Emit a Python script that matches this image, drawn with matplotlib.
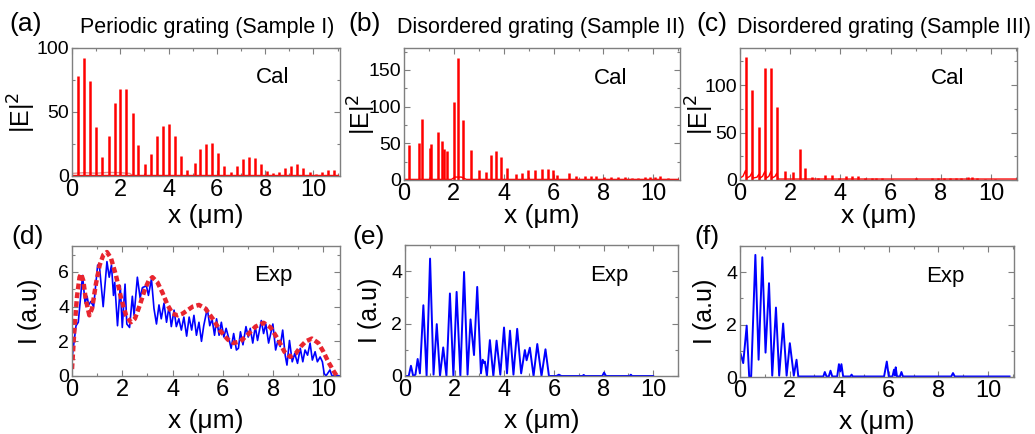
import matplotlib
matplotlib.use("Agg")
import matplotlib.pyplot as plt
from matplotlib.ticker import MultipleLocator

plt.rcParams["font.family"] = ["Liberation Sans", "DejaVu Sans"]

W, H = 1035, 434

# ---- (a) periodic grating, calculated |E|^2 peaks ----
a_x = [0.24, 0.48, 0.73, 1.0, 1.24, 1.52, 1.77, 2.0, 2.24, 2.52, 2.75, 3.02,
       3.29, 3.54, 3.76, 4.01, 4.27, 4.52, 4.77, 5.08, 5.3, 5.53, 5.78, 6.04,
       6.29, 6.57, 6.82, 7.07, 7.33, 7.57, 7.81, 8.06, 8.34, 8.59, 8.82, 9.07,
       9.32, 9.57, 9.85, 10.1, 10.35, 10.6, 10.86]
a_h = [78, 92, 74, 38, 15, 31, 57, 68, 68, 49, 24, 9,
       17, 31, 39, 41, 31, 16, 5, 10, 21, 25, 26, 18,
       8, 3, 8, 13, 15, 14, 9, 4, 2, 3, 6, 8,
       9, 6, 3, 1.5, 3, 5, 5]
a_base_x = [0, 0.5, 1.0, 1.5, 2.0, 2.4, 2.5]
a_base_y = [2, 2.6, 2.2, 2.8, 2.6, 2.0, 0.5]

# ---- (b) disordered grating II ----
b_x = [0.21, 0.59, 0.72, 1.06, 1.1, 1.37, 1.54, 1.59, 1.74, 2.02, 2.17, 2.37,
       2.7, 2.99, 3.28, 3.47, 3.71, 3.91, 4.15, 4.48, 4.75, 4.98, 5.25, 5.52,
       5.78, 5.98, 6.14, 6.6, 6.89, 7.26, 7.52, 7.72, 8.02, 8.29, 8.6, 8.86,
       9.13, 9.4, 9.67, 9.87, 10.07, 10.27, 10.6, 10.94]
b_h = [48, 51, 83, 44, 49, 66, 53, 42, 40, 107, 167, 82,
       41, 14, 11, 34, 39, 32, 17, 8, 10, 13, 14, 15,
       15, 14, 7, 9, 6, 6, 5, 5, 4, 4, 4, 4,
       3, 3, 4, 4, 4, 5, 3, 2]
b_base_x = [0, 1.9, 2.05, 2.3, 2.5, 11]
b_base_y = [0.8, 0.8, 4, 4, 0.8, 0.8]

# ---- (c) disordered grating III ----
c_x = [0.23, 0.49, 0.76, 1.0, 1.24, 1.47, 1.79, 2.1, 2.4, 2.59, 2.86, 3.12,
       3.4, 3.65, 3.94, 4.21, 4.45, 4.71, 4.98, 5.25, 5.4, 5.64, 6.04, 7.01,
       7.64, 7.9, 8.14, 8.37, 8.59, 8.8, 9.07, 9.23, 9.43, 9.76, 10.16]
c_h = [129, 95, 56, 118, 118, 77, 9.5, 8, 33, 13, 3, 2,
       5, 5, 2, 4, 4, 4, 2, 2.5, 2.5, 2, 1.5, 2.5,
       2, 2, 2, 2, 2, 2, 3, 3.5, 2, 1, 1]
c_base_x = [0, 0.12, 0.22, 0.27, 0.4, 0.48, 0.52, 0.68, 0.75, 0.8, 0.9, 0.99,
            1.05, 1.15, 1.23, 1.28, 1.4, 1.46, 1.52, 1.7, 11]
c_base_y = [2, 4, 10, 2, 4, 8, 2, 3, 6, 2, 4, 9,
            2, 4, 9, 2, 4, 7, 1, 1, 1]

# ---- (d) periodic grating, experiment + envelope ----
d_x = [0.0, 0.16, 0.25, 0.42, 0.52, 0.6, 0.66, 0.75, 0.86, 1.02, 1.1, 1.24,
       1.39, 1.48, 1.57, 1.65, 1.7, 1.81, 1.92, 2.0, 2.11, 2.18, 2.29, 2.4,
       2.47, 2.6, 2.71, 2.8, 2.96, 3.04, 3.16, 3.26, 3.36, 3.46, 3.55, 3.66,
       3.76, 3.86, 3.95, 4.06, 4.15, 4.25, 4.35, 4.45, 4.56, 4.66, 4.76, 4.85,
       4.95, 5.05, 5.15, 5.24, 5.38, 5.48, 5.57, 5.67, 5.75, 5.85, 5.94, 6.04,
       6.13, 6.24, 6.33, 6.43, 6.54, 6.62, 6.7, 6.8, 6.92, 7.01, 7.09, 7.19,
       7.29, 7.38, 7.53, 7.62, 7.71, 7.82, 7.99, 8.1, 8.19, 8.28, 8.38, 8.48,
       8.55, 8.65, 8.76, 8.86, 8.97, 9.08, 9.18, 9.27, 9.37, 9.47, 9.56, 9.67,
       9.76, 9.87, 9.96, 10.03, 10.1, 10.26, 10.34, 10.46, 10.66]
d_y = [1.0, 2.9, 3.1, 5.8, 4.2, 4.6, 4.1, 4.3, 4.0, 6.4, 6.2, 4.0,
       6.6, 5.7, 6.4, 4.65, 5.4, 2.9, 5.2, 2.8, 5.3, 3.0, 2.8, 4.6,
       3.5, 5.7, 4.5, 5.1, 5.2, 4.65, 5.6, 3.9, 3.0, 4.1, 3.3, 4.2,
       3.1, 4.0, 2.85, 3.8, 2.85, 3.3, 2.65, 3.4, 2.3, 3.4, 2.65, 3.5,
       2.35, 3.1, 2.0, 2.9, 3.9, 2.9, 3.3, 2.35, 3.3, 2.35, 3.1, 2.25,
       2.75, 2.15, 1.6, 2.45, 1.5, 1.6, 2.55, 1.8, 2.85, 2.25, 2.75, 1.9,
       2.85, 2.05, 3.2, 2.45, 3.0, 1.9, 3.0, 1.5, 2.05, 1.7, 2.65, 1.2,
       0.63, 2.05, 0.82, 1.3, 0.73, 1.6, 0.82, 1.5, 1.2, 1.9, 0.92, 1.4,
       0.82, 1.1, 0.82, 0.15, 0.0, 0.35, 0.0, 0.06, 0.0]
env_x = [0, 0.1, 0.2, 0.3, 0.36, 0.45, 0.55, 0.69, 0.8, 0.95, 1.1, 1.25,
         1.39, 1.55, 1.75, 1.95, 2.15, 2.34, 2.5, 2.7, 2.9, 3.05, 3.2, 3.4,
         3.6, 3.8, 4.0, 4.2, 4.4, 4.6, 4.8, 5.05, 5.3, 5.6, 5.9, 6.2,
         6.43, 6.7, 7.0, 7.3, 7.62, 7.9, 8.2, 8.45, 8.68, 8.9, 9.1, 9.3,
         9.54, 9.8, 10.0, 10.2, 10.4, 10.53]
env_y = [0.4, 2.8, 4.6, 5.7, 5.9, 5.5, 4.4, 3.5, 3.9, 5.3, 6.4, 7.0,
         7.15, 6.8, 5.8, 4.5, 3.5, 3.1, 3.3, 4.1, 5.0, 5.5, 5.7, 5.4,
         4.8, 4.1, 3.6, 3.5, 3.6, 3.8, 4.0, 4.1, 3.9, 3.3, 2.6, 2.1,
         1.9, 2.0, 2.4, 2.85, 3.07, 2.8, 2.1, 1.4, 1.1, 1.3, 1.7, 2.0,
         2.16, 1.9, 1.4, 0.8, 0.3, 0.0]

# ---- (e) disordered grating II, experiment ----
e_x = [0, 0.15, 0.24, 0.33, 0.42, 0.51, 0.6, 0.74, 0.87, 1.01, 1.15, 1.28,
       1.41, 1.54, 1.67, 1.81, 1.95, 2.08, 2.23, 2.38, 2.52, 2.64, 2.78, 2.91,
       3.06, 3.13, 3.18, 3.22, 3.3, 3.42, 3.56, 3.69, 3.84, 3.99, 4.11, 4.23,
       4.37, 4.52, 4.68, 4.83, 4.9, 5.03, 5.18, 5.33, 5.5, 5.66, 5.8, 6.1,
       6.2, 6.3, 7.15, 7.2, 7.25, 7.95, 8.02, 8.1, 9.05, 9.1, 9.15, 10.0]
e_y = [0, 0, 0.39, 0, 0.05, 0.65, 0.1, 2.7, 0, 4.48, 0.05, 1.98,
       0, 1.09, 0, 3.15, 0, 3.21, 0, 3.97, 0.05, 2.16, 0.8, 3.4,
       0.1, 0.62, 0.5, 0.55, 0, 1.37, 0, 1.35, 0.05, 1.85, 0.1, 1.73,
       0.05, 1.8, 0.1, 0.99, 0.6, 1.08, 0, 1.22, 0, 1.02, 0, 0,
       0.05, 0, 0, 0.04, 0, 0, 0.13, 0, 0, 0.05, 0, 0]

# ---- (f) disordered grating III, experiment ----
f_x = [0.03, 0.13, 0.27, 0.37, 0.45, 0.62, 0.75, 0.9, 1.03, 1.17, 1.3, 1.45,
       1.58, 1.74, 1.88, 2.01, 2.17, 2.28, 2.35, 3.36, 3.42, 3.49, 3.58, 3.65,
       3.72, 3.92, 3.99, 4.04, 4.09, 4.16, 4.45, 4.5, 4.55, 5.81, 5.92, 6.0,
       6.15, 6.21, 6.25, 6.28, 6.33, 6.45, 6.51, 6.57, 6.8, 8.52, 8.59, 8.66,
       10.87]
f_y = [0.87, 0.53, 1.96, 0.02, 0.02, 4.66, 0.66, 4.57, 0.93, 3.58, 0.05, 2.65,
       0.05, 2.04, 0.05, 1.29, 0.05, 0.66, 0.02, 0.02, 0.19, 0.02, 0.02, 0.24,
       0.02, 0.02, 0.49, 0.21, 0.49, 0.02, 0.02, 0.09, 0.02, 0.02, 0.59, 0.02,
       0.02, 0.28, 0.05, 0.37, 0.02, 0.02, 0.19, 0.02, 0.02, 0.02, 0.15, 0.02,
       0.02]

RED = "#ff0000"
BLUE = "#0000ff"
GREY = "#7f7f7f"


def px_axes(fig, l, t, r, b):
    return fig.add_axes([l / W, 1 - b / H, (r - l) / W, (b - t) / H])


def style(ax, xlim, ylim, ymaj, ylabel, ylab_x, xlab_y, note):
    ax.set_xlim(*xlim)
    ax.set_ylim(*ylim)
    ax.xaxis.set_major_locator(MultipleLocator(2))
    ax.xaxis.set_minor_locator(MultipleLocator(1))
    ax.yaxis.set_major_locator(MultipleLocator(ymaj))
    ax.yaxis.set_minor_locator(MultipleLocator(ymaj / 2))
    for s in ax.spines.values():
        s.set_color(GREY)
        s.set_linewidth(1.0)
    ax.tick_params(which="both", direction="in", top=True, right=True,
                   color=GREY, width=0.8)
    ax.tick_params(which="major", length=4)
    ax.tick_params(which="minor", length=2.5)
    ax.tick_params(axis="x", labelsize=17, pad=2)
    ax.tick_params(axis="y", labelsize=14, pad=2)
    ax.set_ylabel(ylabel, fontsize=18)
    ax.yaxis.set_label_coords(ylab_x, 0.5)
    ax.set_xlabel("x (μm)", fontsize=19)
    ax.xaxis.set_label_coords(0.5, xlab_y)
    ax.text(0.75, 0.77, note, transform=ax.transAxes, fontsize=16,
            ha="center", va="center")


fig = plt.figure(figsize=(W / 100, H / 100), dpi=100)

ax = px_axes(fig, 72, 48, 340, 176)
ax.plot(a_base_x, a_base_y, color="#e09090", lw=1)
ax.plot([0, 11], [0.5, 0.5], color=RED, lw=1)
ax.vlines(a_x, 0, a_h, color=RED, lw=1.8)
style(ax, (0, 11.1), (0, 100), 50, "|E|$^2$", -0.127, -0.215, "Cal")

ax = px_axes(fig, 404, 48, 680, 180)
ax.plot(b_base_x, b_base_y, color=RED, lw=1)
ax.vlines(b_x, 0, b_h, color=RED, lw=1.8)
style(ax, (0, 11.07), (0, 180), 50, "|E|$^2$", -0.094, -0.185, "Cal")

ax = px_axes(fig, 740, 48, 1017, 180)
ax.plot(c_base_x, c_base_y, color=RED, lw=1)
ax.vlines(c_x, 0, c_h, color=RED, lw=1.8)
style(ax, (0, 11.03), (0, 139), 50, "|E|$^2$", -0.087, -0.185, "Cal")

ax = px_axes(fig, 72, 246, 340, 376)
ax.plot(d_x, d_y, color=BLUE, lw=1.2)
ax.plot(env_x, env_y, color="#e8252f", lw=3.2, linestyle=(0, (1.3, 0.7)))
style(ax, (0, 10.66), (0, 7.5), 2, "I (a.u)", -0.112, -0.255, "Exp")

ax = px_axes(fig, 405, 245, 678, 376)
ax.plot(e_x, e_y, color=BLUE, lw=1.4)
style(ax, (0, 11.0), (0, 5.0), 2, "I (a.u)", -0.084, -0.255, "Exp")

ax = px_axes(fig, 740, 246, 1014, 377)
ax.plot(f_x, f_y, color=BLUE, lw=1.4)
style(ax, (0, 11.05), (0, 5.0), 2, "I (a.u)", -0.084, -0.255, "Exp")


def ftext(x, y, s, size):
    fig.text(x / W, 1 - y / H, s, fontsize=size, ha="left", va="center")


ftext(9, 24, "(a)", 19)
ftext(80, 27, "Periodic grating (Sample I)", 15.5)
ftext(348, 24, "(b)", 19)
ftext(397, 27, "Disordered grating (Sample II)", 15.5)
ftext(696, 24, "(c)", 19)
ftext(737, 27, "Disordered grating (Sample III)", 15.5)
ftext(11, 237, "(d)", 19)
ftext(352, 237, "(e)", 19)
ftext(694, 237, "(f)", 19)

fig.savefig("out.png", dpi=100)
